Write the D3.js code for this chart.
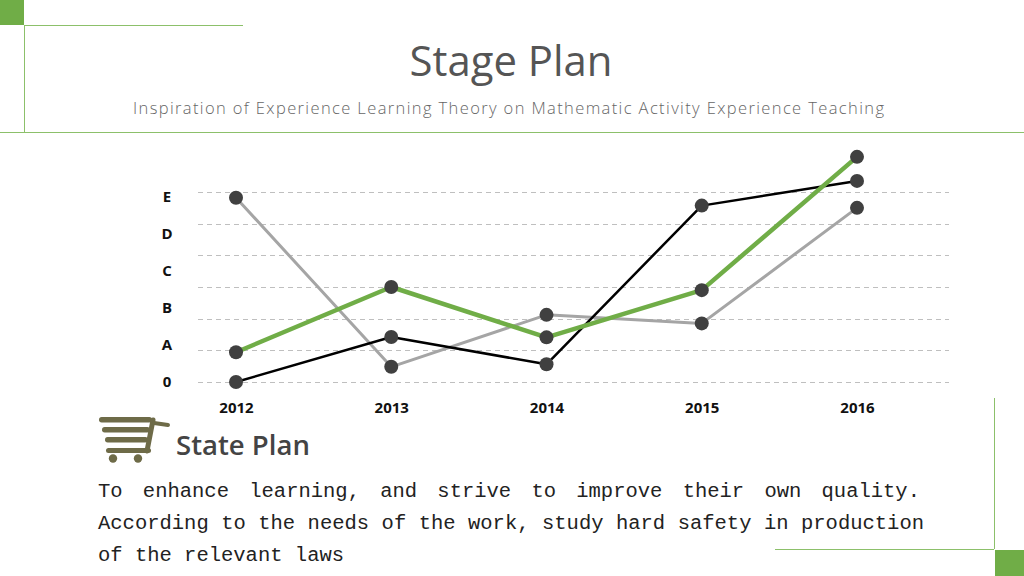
<!DOCTYPE html>
<html><head><meta charset="utf-8">
<script src="https://cdn.jsdelivr.net/npm/d3@7"></script>
<style>
html,body{margin:0;padding:0;background:#fff;}
svg{display:block;}
</style></head>
<body>
<svg id="c" width="1024" height="576"></svg>
<script>
const years = ['2012','2013','2014','2015','2016'];
const yLabels = ['0','A','B','C','D','E'];
const greenVals = [0.94, 3.0, 1.41, 2.9, 7.11];
const blackVals = [0.0, 1.42, 0.56, 5.57, 6.35];
const grayVals  = [5.82, 0.48, 2.12, 1.85, 5.5];
const title = 'Stage Plan';
const subtitle = 'Inspiration of Experience Learning Theory on Mathematic Activity Experience Teaching';
const sectionTitle = 'State Plan';
const bodyLines = [
  'To enhance learning, and strive to improve their own quality.',
  'According to the needs of the work, study hard safety in production',
  'of the relevant laws'
];

const GREEN = '#70AD47';
const svg = d3.select('#c');

// decorative frame
svg.append('rect').attr('x',0).attr('y',0).attr('width',24).attr('height',25).attr('fill',GREEN);
svg.append('line').attr('x1',24).attr('y1',25.5).attr('x2',243).attr('y2',25.5).attr('stroke','#8cc06a').attr('stroke-width',1);
svg.append('line').attr('x1',24.5).attr('y1',25).attr('x2',24.5).attr('y2',132).attr('stroke','#8cc06a').attr('stroke-width',1);
svg.append('line').attr('x1',0).attr('y1',132.5).attr('x2',1024).attr('y2',132.5).attr('stroke','#8cc06a').attr('stroke-width',1);
svg.append('line').attr('x1',994.5).attr('y1',398).attr('x2',994.5).attr('y2',549).attr('stroke','#8cc06a').attr('stroke-width',1);
svg.append('line').attr('x1',775).attr('y1',549.5).attr('x2',994).attr('y2',549.5).attr('stroke','#8cc06a').attr('stroke-width',1);
svg.append('rect').attr('x',995).attr('y',550).attr('width',29).attr('height',26).attr('fill',GREEN);

function fitText(sel, target){
  const w = sel.node().getComputedTextLength();
  const fs = parseFloat(sel.attr('font-size'));
  sel.attr('font-size', fs*target/w);
}
function fitSpacing(sel, target){
  const n = sel.text().length;
  const w = sel.node().getComputedTextLength();
  sel.attr('letter-spacing', ((target-w)/(n-1)).toFixed(3));
}

// titles
const t = svg.append('text').attr('x',511).attr('y',76).attr('text-anchor','middle')
  .attr('font-family','"Open Sans", "Noto Sans", sans-serif').attr('font-weight',400)
  .attr('font-size',42).attr('fill','#555').text(title);
fitText(t, 203);
const st = svg.append('text').attr('x',133).attr('y',114)
  .attr('font-family','"Open Sans", "Noto Sans", sans-serif').attr('font-weight',300)
  .attr('font-size',16.5).attr('fill','#666').text(subtitle);
fitSpacing(st, 751);

// chart
const x = d3.scalePoint(years, [236, 857]);
const y = d3.scaleLinear([0, 6], [382, 192]);
const yl = d3.scalePoint(yLabels, [382, 197]);

const g = svg.append('g');
g.selectAll('line.grid').data(y.ticks(6)).join('line').attr('class','grid')
  .attr('x1',198).attr('x2',949).attr('y1',d=>Math.round(y(d))+0.5).attr('y2',d=>Math.round(y(d))+0.5)
  .attr('stroke','#bfbfbf').attr('stroke-width',1).attr('stroke-dasharray','5,4');

g.selectAll('text.yl').data(yLabels).join('text').attr('class','yl')
  .attr('x',167).attr('y',d=>yl(d)).attr('dy','0.36em').attr('text-anchor','middle')
  .attr('font-family','"Open Sans", "Noto Sans", sans-serif').attr('font-weight',700)
  .attr('font-size',15).attr('fill','#111').text(d=>d);

const xAxis = g.append('g').attr('transform','translate(0,402)')
  .call(d3.axisBottom(x).tickSize(0).tickPadding(0));
xAxis.select('.domain').remove();
xAxis.selectAll('text').attr('font-family','"Open Sans", "Noto Sans", sans-serif')
  .attr('font-weight',700).attr('font-size',15).attr('fill','#111').attr('dy','0.71em');

const line = d3.line().x((d,i)=>x(years[i])).y(d=>y(d));
const series = [
  {vals: grayVals, color:'#A5A5A5', w:3},
  {vals: blackVals, color:'#000', w:2.5},
  {vals: greenVals, color:GREEN, w:4.5}
];
series.forEach(s=>{
  g.append('path').datum(s.vals).attr('d',line).attr('fill','none')
    .attr('stroke',s.color).attr('stroke-width',s.w).attr('stroke-linejoin','round');
});
series.forEach(s=>{
  g.selectAll(null).data(s.vals).join('circle')
    .attr('cx',(d,i)=>x(years[i])).attr('cy',d=>y(d)).attr('r',7).attr('fill','#404040');
});

// cart icon
const OL = '#6e6b48';
const ic = svg.append('g').attr('fill',OL);
ic.append('rect').attr('x',99).attr('y',417).attr('width',53).attr('height',5.5).attr('rx',2.7);
ic.append('rect').attr('x',102).attr('y',427).attr('width',48).attr('height',5.5).attr('rx',2.7);
ic.append('rect').attr('x',105).attr('y',437).attr('width',43).attr('height',5.5).attr('rx',2.7);
ic.append('rect').attr('x',106).attr('y',448).attr('width',45).attr('height',5).attr('rx',2.5);
ic.append('line').attr('x1',153).attr('y1',420).attr('x2',147).attr('y2',451).attr('stroke',OL).attr('stroke-width',5).attr('stroke-linecap','round');
ic.append('line').attr('x1',154).attr('y1',423).attr('x2',168).attr('y2',425).attr('stroke',OL).attr('stroke-width',4).attr('stroke-linecap','round');
ic.append('circle').attr('cx',113).attr('cy',458.5).attr('r',4.2);
ic.append('circle').attr('cx',138).attr('cy',458.5).attr('r',4.2);

const sp = svg.append('text').attr('x',176).attr('y',455)
  .attr('font-family','"Open Sans", "Noto Sans", sans-serif').attr('font-weight',600)
  .attr('font-size',28).attr('fill','#444').text(sectionTitle);
fitText(sp, 134);

// body text
const targets = [822, 826, null];
bodyLines.forEach((ln,i)=>{
  const tx = svg.append('text').attr('x',98).attr('y',497 + i*32)
    .attr('font-family','"Liberation Mono", "DejaVu Sans Mono", monospace')
    .attr('font-size',20.5).attr('fill','#222').text(ln);
  if (targets[i]) {
    const w = tx.node().getComputedTextLength();
    const gaps = (ln.match(/ /g)||[]).length;
    tx.attr('word-spacing', ((targets[i]-w)/gaps).toFixed(2));
  }
});
</script>
</body></html>
